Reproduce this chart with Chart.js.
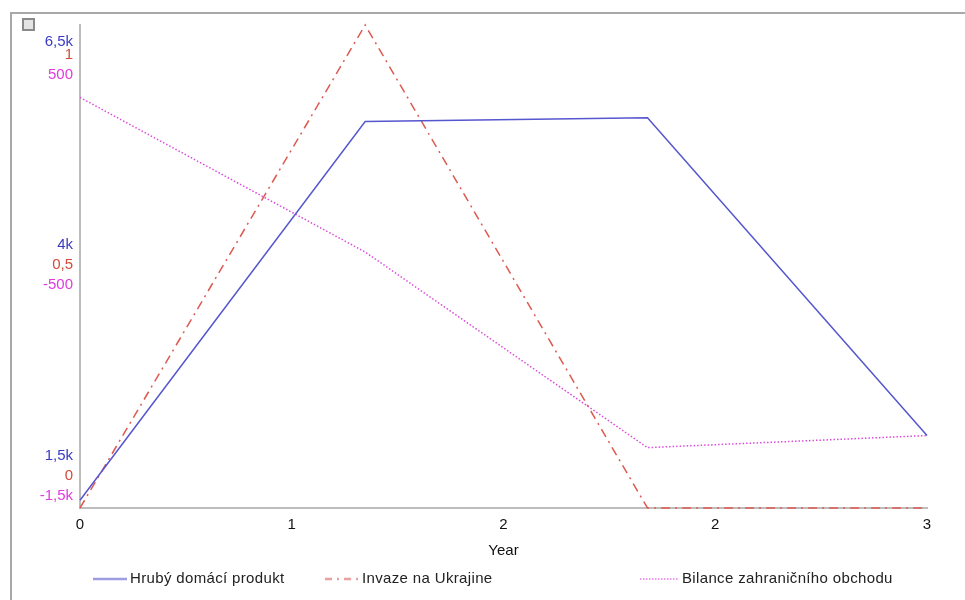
<!DOCTYPE html>
<html>
<head>
<meta charset="utf-8">
<script src="https://cdn.jsdelivr.net/npm/chart.js@4"></script>
<style>
    body { margin: 0; background: #fff; font-family: "Liberation Sans", Arial, sans-serif; }
    #wrap { position: relative; width: 965px; height: 600px; overflow: hidden; }
    #frame { position: absolute; left: 10px; top: 12px; width: 2000px; height: 2000px;
             border-left: 2px solid #a8a8a8; border-top: 2px solid #a8a8a8; }
    #icon { position: absolute; left: 22px; top: 18px; width: 9px; height: 9px;
            border: 2px solid #8a8a8a; background: #e4e4e4; }
    canvas { position: absolute; left: 0; top: 0; }
    .leg { position: absolute; top: 569px; font-size: 15px; letter-spacing: 0.35px; color: #222; white-space: nowrap; }
    .leg svg { position: absolute; top: 8px; }
</style>
</head>
<body>
<div id="wrap">
    <div id="frame"></div>
    <canvas id="grafico" width="965" height="600"></canvas>
    <div id="icon"></div>
    <div class="leg" style="left:93px"><svg width="36" height="4" style="left:0"><line x1="0" y1="2" x2="34" y2="2" stroke="#9d9de2" stroke-width="2.5"/></svg><span style="margin-left:37px">Hrubý domácí produkt</span></div>
    <div class="leg" style="left:325px"><svg width="36" height="4" style="left:0"><line x1="0" y1="2" x2="34" y2="2" stroke="#e8a0a0" stroke-width="2.5" stroke-dasharray="7,5,2,5"/></svg><span style="margin-left:37px">Invaze na Ukrajine</span></div>
    <div class="leg" style="left:640px"><svg width="40" height="4" style="left:0"><line x1="0" y1="2" x2="38" y2="2" stroke="#ef9cef" stroke-width="2" stroke-dasharray="1.5,1.5"/></svg><span style="margin-left:42px">Bilance zahraničního obchodu</span></div>
</div>
<script>
// data
const roky = [0, 1.01, 2.01, 3];
const hdp = [1580, 5500, 5540, 2250];          // Hrubý domácí produkt
const invaze = [0, 1, 0, 0];                   // Invaze na Ukrajine
const bilance = [200, -440, -1250, -1200];     // Bilance zahraničního obchodu

const xTicks = [0, 0.75, 1.5, 2.25, 3];
const xTickLabels = ['0', '1', '2', '2', '3'];

const hdpRange = [1500, 6500];
const hdpTickLabels = ['1,5k', '4k', '6,5k'];
const invazeRange = [0, 1];
const invazeTickLabels = ['0', '0,5', '1'];
const bilanceRange = [-1500, 500];
const bilanceTickLabels = ['-1,5k', '-500', '500'];

const pismo = '"Liberation Sans", Arial, sans-serif';

// ticks drawn stacked, like the original program does (bottom, middle, top)
const popisky = {
    yHdp:     { labels: hdpTickLabels,     color: '#3a3ac4', offs: [-52, -22, 17] },
    yInvaze:  { labels: invazeTickLabels,  color: '#d24a3a', offs: [-32, -2, 30] },
    yBilance: { labels: bilanceTickLabels, color: '#e03ce0', offs: [-12, 18, 50] }
};

const stackedLabels = {
    id: 'stackedLabels',
    afterDraw(chart) {
        const ctx = chart.ctx;
        ctx.save();
        ctx.font = '15px ' + pismo;
        ctx.textAlign = 'right';
        ctx.textBaseline = 'middle';
        Object.keys(popisky).forEach(id => {
            const scale = chart.scales[id];
            const p = popisky[id];
            scale.ticks.forEach((t, i) => {
                ctx.fillStyle = p.color;
                ctx.fillText(p.labels[i], 73, scale.getPixelForValue(t.value) + p.offs[i]);
            });
        });
        ctx.restore();
    }
};

function osaY(range, border) {
    return {
        type: 'linear',
        position: 'left',
        min: range[0],
        max: range[1],
        afterBuildTicks: scale => {
            scale.ticks = [range[0], (range[0] + range[1]) / 2, range[1]].map(v => ({ value: v }));
        },
        afterFit: scale => { scale.width = 0; },
        ticks: { display: false },
        grid: { display: false, drawTicks: false },
        border: { display: border, color: '#bdbdbd', width: 2 }
    };
}

new Chart(document.getElementById('grafico'), {
    type: 'line',
    data: {
        datasets: [
            {
                label: 'Hrubý domácí produkt',
                data: roky.map((r, i) => ({ x: r, y: hdp[i] })),
                borderColor: '#5656cf',
                borderWidth: 1.5,
                yAxisID: 'yHdp'
            },
            {
                label: 'Invaze na Ukrajine',
                data: roky.map((r, i) => ({ x: r, y: invaze[i] })),
                borderColor: '#dc5a50',
                borderWidth: 1.5,
                borderDash: [9, 5, 2, 5],
                yAxisID: 'yInvaze'
            },
            {
                label: 'Bilance zahraničního obchodu',
                data: roky.map((r, i) => ({ x: r, y: bilance[i] })),
                borderColor: '#dc4adc',
                borderWidth: 1.5,
                borderDash: [1.5, 2],
                yAxisID: 'yBilance'
            }
        ]
    },
    options: {
        responsive: false,
        animation: false,
        clip: false,
        elements: { point: { radius: 0 }, line: { tension: 0 } },
        layout: { padding: { left: 80, right: 38, top: 25, bottom: 40 } },
        plugins: { legend: { display: false }, tooltip: { enabled: false } },
        scales: {
            x: {
                type: 'linear',
                min: 0,
                max: 3,
                afterBuildTicks: scale => { scale.ticks = xTicks.map(v => ({ value: v })); },
                ticks: {
                    color: '#111',
                    padding: 8,
                    maxRotation: 0,
                    font: { family: pismo, size: 15 },
                    callback: (v, i) => xTickLabels[i]
                },
                grid: { display: false, drawTicks: false },
                border: { color: '#bdbdbd', width: 2 },
                title: {
                    display: true,
                    text: 'Year',
                    color: '#111',
                    padding: { top: 0, bottom: 0 },
                    font: { family: pismo, size: 15 }
                }
            },
            yHdp: osaY(hdpRange, false),
            yInvaze: osaY(invazeRange, true),
            yBilance: osaY(bilanceRange, false)
        }
    },
    plugins: [stackedLabels]
});
</script>
</body>
</html>
